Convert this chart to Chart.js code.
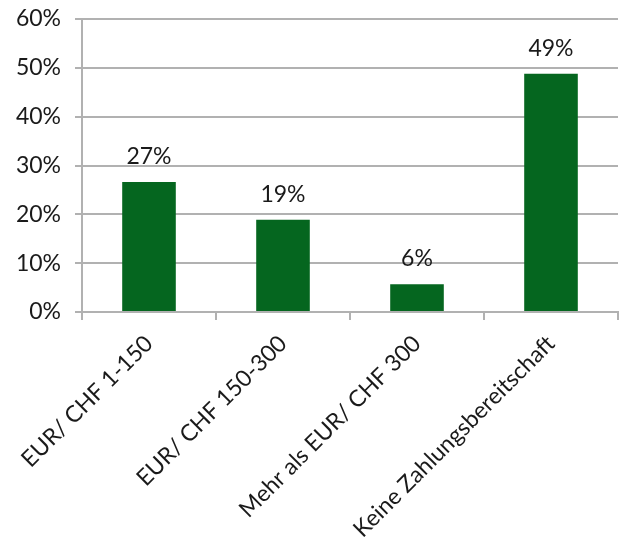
<!DOCTYPE html>
<html>
<head>
<meta charset="utf-8">
<script src="https://cdn.jsdelivr.net/npm/chart.js@4/dist/chart.umd.min.js"></script>
<style>
  html, body { margin: 0; padding: 0; background: #ffffff; }
  #wrap { width: 625px; height: 555px; }
</style>
</head>
<body>
<div id="wrap"><canvas id="c" width="625" height="555"></canvas></div>
<script>
// Willingness to pay – share of respondents per category (%)
const categories = [
  'EUR/ CHF 1-150',
  'EUR/ CHF 150-300',
  'Mehr als EUR/ CHF 300',
  'Keine Zahlungsbereitschaft'
];
const shares = [26.6, 18.9, 5.7, 48.8];
const yTicks = [0, 10, 20, 30, 40, 50, 60];

const FONT = 'Lato, "Open Sans", "DejaVu Sans", sans-serif';
const GRID = '#b1b1b1';

// Percentage labels drawn above each bar
const valueLabels = {
  id: 'valueLabels',
  afterDatasetsDraw(chart) {
    const ctx = chart.ctx;
    const meta = chart.getDatasetMeta(0);
    ctx.save();
    ctx.font = '23px ' + FONT;
    ctx.fillStyle = '#1a1a1a';
    ctx.textAlign = 'center';
    ctx.textBaseline = 'bottom';
    meta.data.forEach((bar, i) => {
      const v = chart.data.datasets[0].data[i];
      ctx.fillText(Math.round(v) + '%', bar.x, bar.y - 14);
    });
    ctx.restore();
  }
};

new Chart(document.getElementById('c'), {
  type: 'bar',
  data: {
    labels: categories,
    datasets: [{
      data: shares,
      backgroundColor: '#05661f',
      borderWidth: 0,
      categoryPercentage: 0.4,
      barPercentage: 1.0
    }]
  },
  options: {
    responsive: false,
    animation: false,
    devicePixelRatio: 1,
    layout: { padding: { top: 19, right: 7, left: 0, bottom: 0 } },
    plugins: {
      legend: { display: false },
      tooltip: { enabled: false }
    },
    scales: {
      y: {
        min: yTicks[0],
        max: yTicks[yTicks.length - 1],
        afterBuildTicks(axis) { axis.ticks = yTicks.map(v => ({ value: v })); },
        afterFit(axis) {
          axis.width = 82;
          axis.paddingTop = 0;
          axis.paddingBottom = 0;
        },
        ticks: {
          callback: v => v + '%',
          color: '#1a1a1a',
          font: { family: FONT, size: 23 },
          padding: 14
        },
        grid: {
          color: GRID,
          lineWidth: 2,
          tickLength: 7,
          drawTicks: true
        },
        border: { display: true, color: GRID, width: 2 }
      },
      x: {
        offset: true,
        afterFit(axis) {
          axis.height = 243;
          axis.paddingLeft = 0;
          axis.paddingRight = 0;
        },
        ticks: {
          color: '#1a1a1a',
          font: { family: FONT, size: 23 },
          maxRotation: 45,
          minRotation: 45,
          padding: 10
        },
        grid: {
          offset: true,
          color: GRID,
          lineWidth: 2,
          drawOnChartArea: false,
          drawTicks: true,
          tickLength: 8
        },
        border: { display: true, color: GRID, width: 2 }
      }
    }
  },
  plugins: [valueLabels]
});
</script>
</body>
</html>
